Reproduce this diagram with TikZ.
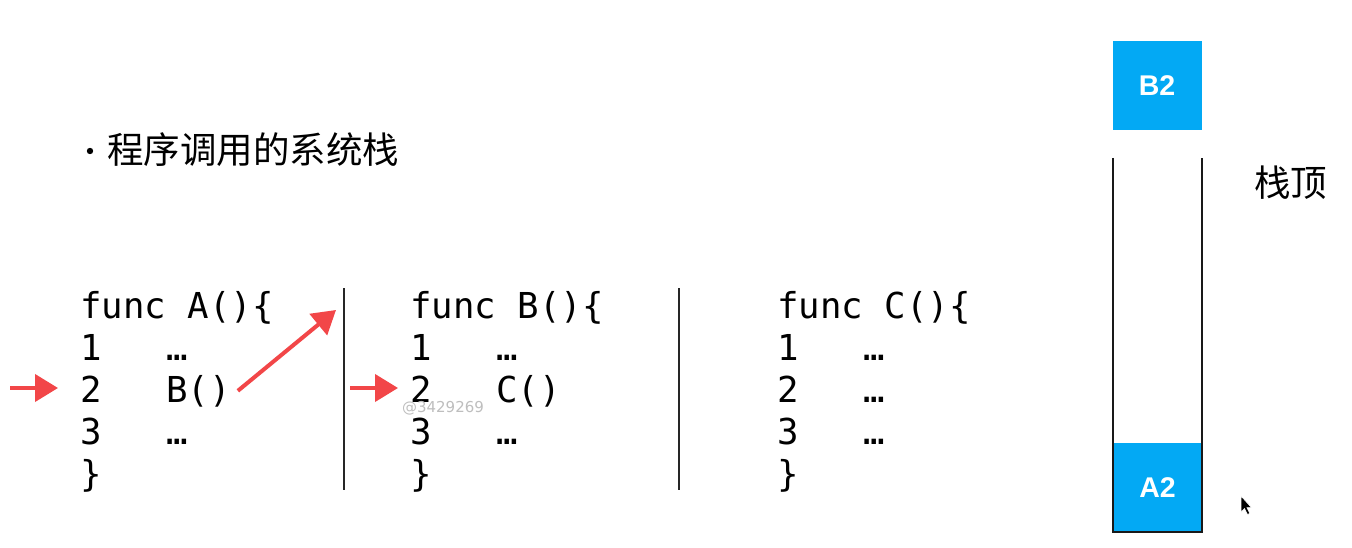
\documentclass[tikz,border=0pt]{standalone}
\usepackage{fontspec}
\setmainfont{DejaVu Sans}
\newfontfamily\codefont{DejaVu Sans Mono}
\newfontfamily\cjk{Noto Sans CJK SC}
\newfontfamily\boxfont{Liberation Sans}
\usetikzlibrary{arrows.meta}
\definecolor{stackblue}{RGB}{3,169,244}
\definecolor{callred}{RGB}{242,70,72}
\definecolor{wmgray}{RGB}{190,190,190}
\tikzset{
  code/.style={font=\codefont\fontsize{35.7}{42}\selectfont, anchor=base west, inner sep=0pt},
  redarrow/.style={draw=callred, line width=4pt, -{Triangle[length=23pt,width=27pt]}, callred},
  sepline/.style={line width=2pt, black!85},
  frame/.style={fill=stackblue, draw=none, minimum width=89pt, minimum height=89pt, inner sep=0pt,
    text=white, font=\boxfont\bfseries\fontsize{28.5}{30}\selectfont},
  wall/.style={line width=2.6pt, black!90},
  title/.style={font=\cjk\fontsize{36.5}{40}\selectfont, inner sep=0pt}
}
\begin{document}
\begin{tikzpicture}[x=1pt,y=-1pt]
\useasboundingbox (0,0) rectangle (1352,548);
\fill[white] (0,0) rectangle (1352,548);

% title
\fill (90,151) circle (3.2);
\node[title, anchor=west] (title) at (107,150) {程序调用的系统栈};

% block A
\node[code] (a0) at (80,318) {func A()\{};
\node[code] (a1n) at (80,360) {1};
\node[code] (a1c) at (166,360) {…};
\node[code] (a2n) at (80,402) {2};
\node[code] (a2c) at (166,402) {B()};
\node[code] (a3n) at (80,444) {3};
\node[code] (a3c) at (166,444) {…};
\node[code] (a4) at (80,486) {\}};

% block B
\node[code] (b0) at (410,318) {func B()\{};
\node[code] (b1n) at (410,360) {1};
\node[code] (b1c) at (496,360) {…};
\node[code] (b2n) at (410,402) {2};
\node[code] (b2c) at (496,402) {C()};
\node[code] (b3n) at (410,444) {3};
\node[code] (b3c) at (496,444) {…};
\node[code] (b4) at (410,486) {\}};

% block C
\node[code] (c0) at (777,318) {func C()\{};
\node[code] (c1n) at (777,360) {1};
\node[code] (c1c) at (863,360) {…};
\node[code] (c2n) at (777,402) {2};
\node[code] (c2c) at (863,402) {…};
\node[code] (c3n) at (777,444) {3};
\node[code] (c3c) at (863,444) {…};
\node[code] (c4) at (777,486) {\}};

% separators
\coordinate (s1t) at (344,288); \coordinate (s1b) at (344,490);
\coordinate (s2t) at (679,288); \coordinate (s2b) at (679,490);
\draw[sepline] (s1t) -- (s1b);
\draw[sepline] (s2t) -- (s2b);

% watermark
\node[font=\fontsize{15}{16}\selectfont, text=wmgray, inner sep=0pt] (wm) at (443,408) {@3429269};

% red arrows
\coordinate (ta) at (10,388);
\coordinate (tb) at (350,388);
\coordinate (tip) at (336,310);
\draw[redarrow] (ta) -- ([xshift=-22pt]a2n.west |- ta);
\draw[redarrow] (tb) -- ([xshift=-12pt]b2n.west |- tb);
\draw[redarrow] ([xshift=7pt]a2c.east) -- (tip);

% stack
\node[frame] (fa) at (1157.5,487.5) {A2};
\node[frame] (fb) at (1157,85.5) {B2};
\draw[wall] (1113,158) -- (1113,532) -- (1202,532) -- (1202,158);
\node[title, anchor=west] (top) at (1254,183) {栈顶};

% mouse cursor
\filldraw[fill=black, draw=white, line width=0.6pt]
  (1241,496) -- (1241,512) -- (1244.5,508.5) -- (1247.5,514.5) -- (1249.8,513.4) -- (1246.9,507.6) -- (1251.5,507.6) -- cycle;
\end{tikzpicture}
\end{document}
